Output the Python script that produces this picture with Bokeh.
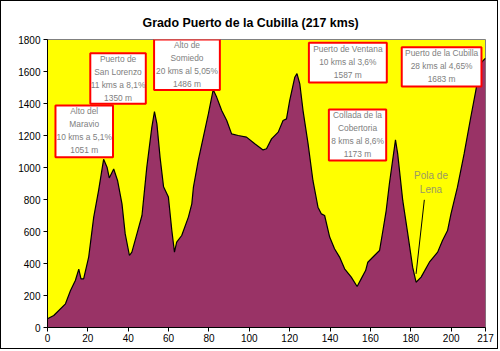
from bokeh.plotting import figure
from bokeh.models import Range1d, FixedTicker
from bokeh.core.properties import value
from bokeh.embed import file_html
from bokeh.resources import INLINE

# ---- data ----
km = [0, 3.1, 8.9, 11.4, 13.8, 15.5, 16.6, 17.9, 20.4, 22.9, 25.3, 27.8, 29.5, 30.6,
      32.8, 34.7, 36.9, 38.5, 40.6, 41.8, 44.3, 46.8, 49.2, 51.7, 53.0, 54.2, 55.8,
      57.5, 59.9, 61.6, 62.9, 64.0, 66.5, 69.8, 71.5, 72.3, 74.7, 77.2, 79.7, 82.1,
      83.8, 86.3, 88.8, 91.2, 94.5, 98.6, 102.7, 106.8, 108.5, 111.0, 114.3, 116.7,
      118.4, 120.0, 122.5, 123.6, 125.0, 126.6, 129.1, 131.5, 134.0, 135.7, 137.3,
      139.8, 142.2, 144.7, 147.2, 150.5, 153.4, 155.4, 157.6, 158.7, 162.0, 164.5,
      166.1, 167.8, 169.4, 172.4, 173.5, 176.0, 178.5, 180.9, 182.6, 185.1, 189.2,
      193.3, 195.7, 198.2, 199.9, 203.1, 206.4, 209.7, 212.2, 213.9, 215.2, 217]
alt = [55, 75, 148, 231, 294, 365, 304, 304, 440, 690, 856, 1051, 1002, 935,
       991, 919, 773, 585, 450, 471, 585, 700, 1002, 1252, 1350, 1273, 1060,
       880, 815, 606, 471, 533, 575, 690, 773, 877, 1044, 1190, 1335, 1486,
       1440, 1356, 1294, 1210, 1200, 1190, 1148, 1110, 1117, 1179, 1221, 1294,
       1304, 1420, 1564, 1587, 1523, 1356, 1148, 919, 752, 710, 700,
       565, 492, 440, 367, 315, 256, 304, 356, 408, 450, 481,
       600, 731, 900, 1173, 1085, 794, 585, 377, 283, 315, 408,
       471, 544, 606, 710, 877, 1085, 1314, 1481, 1606, 1660, 1683]

x_ticks = [0, 20, 40, 60, 80, 100, 120, 140, 160, 180, 200, 217]
y_ticks = [0, 200, 400, 600, 800, 1000, 1200, 1400, 1600, 1800]

title_text = "Grado Puerto de la Cubilla (217 kms)"

box_texts = [
    "Alto del\nMaravio\n10 kms a 5,1%\n1051 m",
    "Puerto de\nSan Lorenzo\n11 kms a 8,1%\n1350 m",
    "Alto de\nSomiedo\n20 kms al 5,05%\n1486 m",
    "Puerto de Ventana\n10 kms al 3,6%\n1587 m",
    "Puerto de la Cubilla\n28 kms al 4,65%\n1683 m",
    "Collada de la\nCobertoria\n8 kms al 8,6%\n1173 m",
]
box_left = [3.95, 21.2, 52.8, 129.5, 175.5, 139.4]
box_right = [32.45, 48.7, 85.4, 168.1, 215.0, 167.8]
box_bottom = [1064, 1398, 1485, 1531, 1506, 1044]
box_top = [1387, 1714, 1800, 1779, 1752, 1362]
text_y = [1230, 1559, 1646, 1658, 1636, 1206]

pola_text = "Pola de\nLena"
pola_pos = (190.0, 908)
pointer_x = [186.7, 182.6]
pointer_y = [798, 335]

# ---- figure ----
p = figure(width=498, height=349, output_backend="svg", toolbar_location=None,
           x_range=Range1d(0, 217), y_range=Range1d(0, 1800),
           min_border_left=46, min_border_right=14, min_border_top=38,
           min_border_bottom=23)
p.styles = {"border": "1px solid black"}
p.background_fill_color = "#FFFF00"
p.border_fill_color = "white"
p.outline_line_color = "#808080"
p.outline_line_width = 1
p.xgrid.visible = False
p.ygrid.visible = False

p.title.text = title_text
p.title.align = "left"
p.title.offset = 95
p.title.text_font = "Liberation Sans"
p.title.text_font_size = "12.4px"
p.title.text_font_style = "bold"
p.title.text_color = "black"
p.title.standoff = 20

p.varea(x=km, y1=0, y2=alt, fill_color="#993366")
p.line(km, alt, line_color="black", line_width=1.2)

# annotation boxes
p.quad(left=box_left, right=box_right, bottom=box_bottom, top=box_top,
       fill_color="white", line_color="#FF0000", line_width=2)
cx = [(a + b) / 2 for a, b in zip(box_left, box_right)]
p.text(x=cx, y=text_y, text=box_texts, text_align="center", text_baseline="middle",
       text_font=value("Liberation Sans"), text_font_size="8.4px",
       text_color="#808080", text_line_height=1.3)

p.line(pointer_x, pointer_y, line_color="black", line_width=1)
p.text(x=[pola_pos[0]], y=[pola_pos[1]], text=[pola_text], text_align="center",
       text_baseline="middle", text_font=value("Liberation Sans"),
       text_font_size="10px", text_color="#999966", text_line_height=1.3)

# axes
for ax in (p.xaxis[0], p.yaxis[0]):
    ax.axis_line_color = "black"
    ax.major_tick_line_color = "black"
    ax.major_tick_out = 4
    ax.major_tick_in = 0
    ax.minor_tick_line_color = None
    ax.major_label_text_font = "Liberation Sans"
    ax.major_label_text_font_size = "10px"
    ax.major_label_text_color = "black"
p.xaxis.ticker = FixedTicker(ticks=x_ticks)
p.yaxis.ticker = FixedTicker(ticks=y_ticks)
p.xaxis.major_label_standoff = 2
p.yaxis.major_label_standoff = 3

open("out.html", "w").write(file_html(p, INLINE))
